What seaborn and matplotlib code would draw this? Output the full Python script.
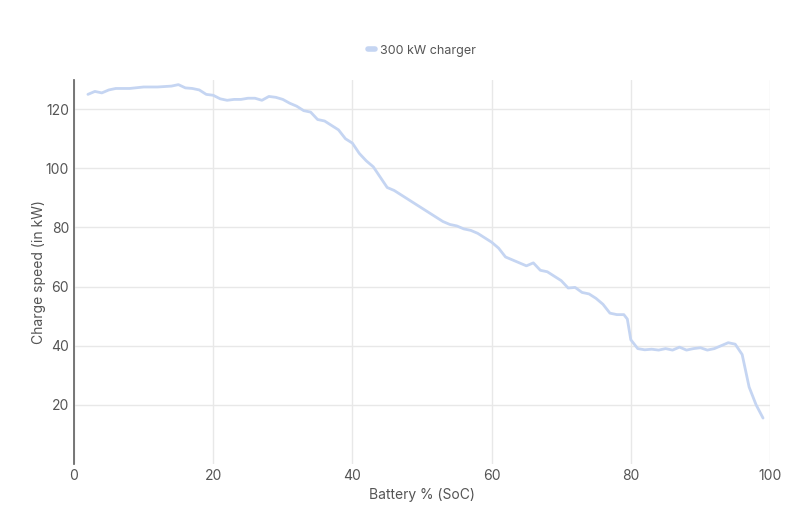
import matplotlib
matplotlib.use("Agg")
import matplotlib.pyplot as plt
import seaborn as sns
import pandas as pd

soc = [2,3,4,5,6,8,10,12,14,15,16,17,18,19,20,21,22,23,24,25,26,27,28,29,30,31,32,33,34,35,36,37,38,39,40,
       41,42,43,44,45,46,47,48,49,50,51,52,53,54,55,56,57,58,59,60,61,62,63,64,65,66,67,68,69,70,
       71,72,73,74,75,76,77,78,79,79.5,80,81,82,83,84,85,86,87,88,89,90,91,92,93,94,95,96,97,98,99]
kw = [125,126,125.5,126.5,127,127,127.5,127.5,127.8,128.3,127.2,127,126.5,125,124.7,123.5,123,123.3,123.3,123.7,123.7,123,124.3,124,123.3,122,121,119.5,119,116.5,116,114.5,113,110,108.5,
      105,102.5,100.5,97,93.5,92.5,91,89.5,88,86.5,85,83.5,82,81,80.5,79.5,79,78,76.5,75,73,70,69,68,67,68,65.5,65,63.5,62,
      59.5,59.7,58,57.5,56,54,51,50.5,50.5,49,42,39,38.6,38.8,38.5,39,38.5,39.5,38.5,39,39.3,38.5,39,40,41,40.5,37,26,20,15.5]
series_name = "300 kW charger"
df = pd.DataFrame({"soc": soc, "kw": kw, "s": series_name})

sns.set_theme(style="white")
plt.rcParams['font.family'] = ['Inter', 'DejaVu Sans']
fig, ax = plt.subplots(figsize=(8, 5.07), dpi=100)
fig.subplots_adjust(left=0.0925, right=0.9625, top=0.843, bottom=0.085)
sns.lineplot(data=df, x="soc", y="kw", hue="s", palette=["#c5d5f2"], linewidth=2, ax=ax)
ax.set_xlim(0, 100)
ax.set_ylim(0, 130)
ax.set_xticks(range(0, 101, 20))
ax.set_yticks(range(20, 121, 20))
ax.grid(True, color="#e8e8e8", linewidth=1)
for s in ["top", "right", "bottom"]:
    ax.spines[s].set_visible(False)
ax.spines["left"].set_color("#666666")
ax.tick_params(colors="#555555", labelsize=10, length=0)
ax.set_xlabel("Battery % (SoC)", color="#555555", fontsize=10)
ax.set_ylabel("Charge speed (in kW)", color="#555555", fontsize=10, labelpad=0)
leg = ax.legend(loc="lower center", bbox_to_anchor=(0.5, 1.03), frameon=False, fontsize=9,
                handlelength=0.6, handletextpad=0.4)
for t in leg.get_texts():
    t.set_color("#555555")
for l in leg.get_lines():
    l.set_linewidth(4)
fig.savefig("out.png")
